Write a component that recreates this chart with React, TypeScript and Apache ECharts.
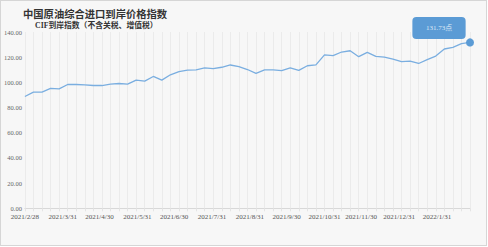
import React, { useEffect, useRef } from "react";
import * as echarts from "echarts";

const TITLE = "中国原油综合进口到岸价格指数";
const SUBTITLE = "CIF到岸指数（不含关税、增值税）";
const START_DATE = "2021/2/28";
const WEEK_VALUES: number[] = [
  88.8, 92.3, 92.3, 95.2, 94.9, 98.3, 98.3, 98.0, 97.5, 97.5,
  98.6, 99.1, 98.6, 101.8, 101.0, 104.7, 101.8, 106.0, 108.5, 109.7,
  110.0, 111.5, 110.9, 112.0, 113.8, 112.5, 110.2, 107.2, 110.0, 110.0,
  109.3, 111.6, 109.5, 113.2, 113.9, 121.8, 121.2, 124.1, 125.1, 120.4,
  123.8, 120.6, 120.1, 118.5, 116.5, 116.9, 115.0, 118.0, 120.9, 126.5,
  127.8, 130.7, 131.73,
];
const Y_MIN = 0;
const Y_MAX = 140;
const Y_STEP = 20;
const UNIT = "点";

function fmt(d: Date) {
  return `${d.getFullYear()}/${d.getMonth() + 1}/${d.getDate()}`;
}

export default function App() {
  const ref = useRef<HTMLDivElement>(null);
  useEffect(() => {
    if (!ref.current) return;
    const chart = echarts.init(ref.current, null, { renderer: "svg" });
    const [sy, sm, sd] = START_DATE.split("/").map(Number);
    const start = new Date(sy, sm - 1, sd);
    const nDays = (WEEK_VALUES.length - 1) * 7 + 1;
    const cats: string[] = [];
    const monthEnd: boolean[] = [];
    const series: (number | string)[] = [];
    for (let i = 0; i < nDays; i++) {
      const d = new Date(start.getFullYear(), start.getMonth(), start.getDate() + i);
      const next = new Date(d.getFullYear(), d.getMonth(), d.getDate() + 1);
      cats.push(fmt(d));
      monthEnd.push(next.getDate() === 1);
      series.push(i % 7 === 0 ? WEEK_VALUES[i / 7] : "-");
    }
    const lastIdx = nDays - 1;
    const lastVal = WEEK_VALUES[WEEK_VALUES.length - 1];
    const numFont = "'Liberation Serif', 'Noto Sans CJK SC', serif";
    chart.setOption({
      animation: false,
      backgroundColor: "#f7f7f7",
      title: [
        {
          text: TITLE,
          left: 17,
          top: 2,
          textStyle: {
            fontSize: 10.3,
            fontWeight: "bold",
            color: "#333",
            fontFamily: "'Noto Sans CJK SC', serif",
          },
        },
        {
          text: SUBTITLE,
          left: 29,
          top: 16,
          textStyle: {
            fontSize: 7.8,
            fontWeight: "bold",
            color: "#333",
            fontFamily: "'Liberation Serif', 'Noto Sans CJK SC', serif",
          },
        },
      ],
      grid: { left: 21, right: 16, top: 31, bottom: 36.7 },
      xAxis: {
        type: "category",
        data: cats,
        boundaryGap: false,
        axisLine: { show: true, lineStyle: { color: "#d8d8d8" } },
        axisTick: {
          show: true,
          length: 3,
          interval: (idx: number) => idx % 7 === 0,
          lineStyle: { color: "#e4e4e4" },
        },
        splitLine: {
          show: true,
          interval: (idx: number) => idx % 7 === 0,
          lineStyle: { color: "#ebebeb", width: 1 },
        },
        axisLabel: {
          interval: (idx: number) => monthEnd[idx],
          fontSize: 7,
          color: "#555",
          margin: 5,
          fontFamily: numFont,
        },
      },
      yAxis: {
        type: "value",
        min: Y_MIN,
        max: Y_MAX,
        interval: Y_STEP,
        axisLine: { show: false },
        axisTick: { show: false },
        splitLine: { show: false },
        axisLabel: {
          formatter: (v: number) => v.toFixed(2),
          fontSize: 6.5,
          color: "#666",
          margin: 3,
          fontFamily: numFont,
        },
      },
      series: [
        {
          type: "line",
          data: series,
          connectNulls: true,
          showSymbol: false,
          lineStyle: { color: "#7aaee0", width: 1.3 },
          itemStyle: { color: "#5b9bd5" },
          markPoint: {
            symbol: "circle",
            symbolSize: 8,
            itemStyle: { color: "#5b9bd5" },
            data: [
              {
                coord: [lastIdx, lastVal],
                label: {
                  show: true,
                  position: "inside",
                  offset: [-31, -14.5],
                  formatter: `${lastVal.toFixed(2)}${UNIT}`,
                  backgroundColor: "#5b9bd5",
                  borderRadius: 4,
                  padding: [7.5, 13.5],
                  color: "#dfe9f5",
                  fontSize: 7,
                  fontFamily: numFont,
                  align: "center",
                  verticalAlign: "middle",
                },
              },
            ],
          },
        },
      ],
    });
    return () => chart.dispose();
  }, []);
  return (
    <div
      style={{
        position: "fixed",
        left: 0,
        top: 0,
        width: 487,
        height: 246,
        border: "1px solid #d6d6d6",
        boxSizing: "border-box",
        background: "#f7f7f7",
      }}
    >
      <div ref={ref} style={{ width: 485, height: 244 }} />
    </div>
  );
}
